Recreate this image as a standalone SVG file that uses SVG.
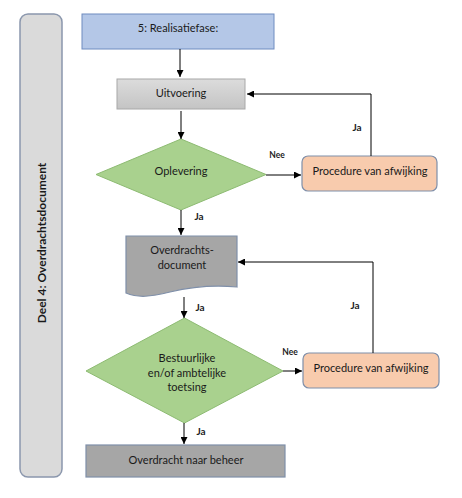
<svg xmlns="http://www.w3.org/2000/svg" width="462" height="498" viewBox="0 0 462 498">
<defs>
<marker id="arr" viewBox="0 0 10 10" refX="10" refY="5" markerWidth="7" markerHeight="7" markerUnits="userSpaceOnUse" orient="auto">
<path d="M0,0 L10,5 L0,10 Z" fill="#000"/>
</marker>
<linearGradient id="gUit" x1="0" y1="0" x2="0" y2="1">
<stop offset="0" stop-color="#dcdcdc"/>
<stop offset="1" stop-color="#c4c4c4"/>
</linearGradient>
<style>
.t{font-family:Lato,"Liberation Sans",sans-serif;font-size:11px;fill:#1a1a1a;text-anchor:middle;dominant-baseline:central}
.lbl{font-family:Lato,"Liberation Sans",sans-serif;font-size:10px;font-weight:bold;fill:#222;text-anchor:middle;dominant-baseline:central}
.nee{font-family:Lato,"Liberation Sans",sans-serif;font-size:8.5px;font-weight:bold;fill:#222;text-anchor:middle;dominant-baseline:central}
.c{fill:none;stroke:#000;stroke-width:1}
.proc{fill:#f8cbad;stroke:#7f8fa9;stroke-width:1.2}
.dia{fill:#a9d18e;stroke:#8dbb72;stroke-width:1}
.dark{fill:#a6a6a6;stroke:#7f8fa9;stroke-width:1.2}
</style>
</defs>
<rect width="462" height="498" fill="#fff"/>

<g id="sidebar">
<rect x="20" y="14" width="42" height="463" rx="8" fill="#dadada" stroke="#8b97ad" stroke-width="1.5"/>
<text class="t" transform="translate(41,243) rotate(-90)" style="font-weight:bold;font-size:12px">Deel 4: Overdrachtsdocument</text>
</g>

<g id="realisatiefase">
<rect x="82" y="14" width="192" height="35" fill="#b4c7e7" stroke="#6f8cc0" stroke-width="1"/>
<text class="t" x="178" y="27">5: Realisatiefase:</text>
</g>

<g id="uitvoering">
<rect x="117" y="79" width="128" height="30" fill="url(#gUit)" stroke="#a8a8a8" stroke-width="1"/>
<text class="t" x="181" y="92">Uitvoering</text>
</g>

<g id="oplevering">
<polygon class="dia" points="181,139 266,174.5 181,210 96,174.5"/>
<text class="t" x="181" y="170">Oplevering</text>
</g>

<g id="procedure1">
<rect class="proc" x="302" y="156" width="135" height="35" rx="6"/>
<text class="t" x="370" y="170">Procedure van afwijking</text>
</g>

<g id="overdrachtsdocument">
<path class="dark" d="M126,236 H237 V287 C215,285 195,286 170,292 C150,297 138,298 126,293 Z"/>
<text class="t" x="182" y="249">Overdrachts-</text>
<text class="t" x="182" y="264">document</text>
</g>

<g id="toetsing">
<polygon class="dia" points="184.5,318 283,371 184.5,423 86,371"/>
<text class="t" x="187" y="357">Bestuurlijke</text>
<text class="t" x="187" y="372">en/of ambtelijke</text>
<text class="t" x="187" y="386">toetsing</text>
</g>

<g id="procedure2">
<rect class="proc" x="303" y="353" width="136" height="35" rx="6"/>
<text class="t" x="371" y="367">Procedure van afwijking</text>
</g>

<g id="overdracht">
<rect class="dark" x="86" y="445" width="199" height="32"/>
<text class="t" x="186" y="459">Overdracht naar beheer</text>
</g>

<g id="connectors">
<line class="c" x1="180" y1="49" x2="180" y2="77" marker-end="url(#arr)"/>
<line class="c" x1="181" y1="111" x2="181" y2="139" marker-end="url(#arr)"/>
<line class="c" x1="266" y1="175" x2="301" y2="175" marker-end="url(#arr)"/>
<polyline class="c" points="371,156 371,94 247,94" marker-end="url(#arr)"/>
<line class="c" x1="181" y1="210" x2="181" y2="235" marker-end="url(#arr)"/>
<line class="c" x1="184" y1="297" x2="184" y2="318" marker-end="url(#arr)"/>
<line class="c" x1="283" y1="371" x2="302" y2="371" marker-end="url(#arr)"/>
<polyline class="c" points="373,353 373,262 238,262" marker-end="url(#arr)"/>
<line class="c" x1="184" y1="423" x2="184" y2="444" marker-end="url(#arr)"/>
</g>

<g id="labels">
<text class="nee" x="277" y="155">Nee</text>
<text class="lbl" x="357" y="127">Ja</text>
<text class="lbl" x="199" y="216">Ja</text>
<text class="lbl" x="200" y="307">Ja</text>
<text class="nee" x="290" y="352">Nee</text>
<text class="lbl" x="355" y="305">Ja</text>
<text class="lbl" x="201" y="431">Ja</text>
</g>
</svg>
